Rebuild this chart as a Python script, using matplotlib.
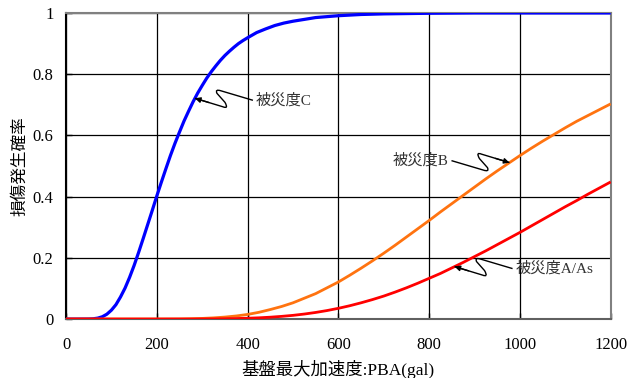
import numpy as np
import matplotlib
matplotlib.use("Agg")
import matplotlib.pyplot as plt
import matplotlib.transforms as mtransforms
from matplotlib.path import Path
from matplotlib.patches import PathPatch

# ---- data ----
pga_C = [0, 25, 50, 60, 70, 80, 90, 100, 110, 120, 130, 140, 150, 160, 170, 180,
         190, 200, 210, 220, 230, 240, 250, 260, 270, 280, 290, 300, 310, 320, 330,
         340, 350, 360, 370, 380, 390, 400, 420, 440, 460, 480, 500, 550, 600, 650,
         700, 750, 800, 900, 1000, 1100, 1200]
damage_C = [0, 0, 0.0002, 0.0009, 0.003, 0.0075, 0.0158, 0.029, 0.047, 0.072, 0.101,
            0.136, 0.175, 0.218, 0.263, 0.309, 0.355, 0.402, 0.447, 0.491, 0.534,
            0.574, 0.611, 0.647, 0.679, 0.710, 0.738, 0.763, 0.787, 0.808, 0.827,
            0.845, 0.861, 0.875, 0.888, 0.900, 0.910, 0.919, 0.936, 0.948, 0.959,
            0.967, 0.973, 0.985, 0.991, 0.995, 0.997, 0.998, 0.999, 1, 1, 1, 1]
pga_AB = [0, 50, 100, 150, 200, 250, 275, 300, 325, 350, 375, 400, 425, 450, 475,
          500, 525, 550, 575, 600, 625, 650, 675, 700, 725, 750, 775, 800, 825, 850,
          875, 900, 925, 950, 975, 1000, 1025, 1050, 1075, 1100, 1125, 1150, 1175, 1200]
damage_B = [0, 0, 0, 0, 0, 0.0003, 0.001, 0.002, 0.0038, 0.0064, 0.010, 0.015,
            0.022, 0.031, 0.041, 0.053, 0.068, 0.083, 0.102, 0.121, 0.143, 0.166,
            0.190, 0.215, 0.241, 0.268, 0.295, 0.322, 0.350, 0.377, 0.404, 0.431,
            0.458, 0.484, 0.509, 0.534, 0.558, 0.581, 0.603, 0.625, 0.646, 0.665,
            0.684, 0.703]
damage_A = [0, 0, 0, 0, 0, 0, 0, 0.0002, 0.0004, 0.0009, 0.0016, 0.0026, 0.004,
            0.006, 0.0087, 0.012, 0.0163, 0.0215, 0.0277, 0.035, 0.0434, 0.053,
            0.0635, 0.075, 0.088, 0.102, 0.117, 0.133, 0.149, 0.167, 0.185, 0.204,
            0.223, 0.243, 0.263, 0.283, 0.304, 0.325, 0.346, 0.367, 0.387, 0.408,
            0.428, 0.448]
x_ticks = [0, 200, 400, 600, 800, 1000, 1200]
y_ticks = [0, 0.2, 0.4, 0.6, 0.8, 1.0]
y_tick_labels = ["0", "0.2", "0.4", "0.6", "0.8", "1"]
label_C = "被災度C"
label_B = "被災度B"
label_A = "被災度A/As"
x_label = "基盤最大加速度:PBA(gal)"
y_label = "損傷発生確率"
# annotation anchor PGA values on each curve
tip_C = 284
tip_B = 977
tip_A = 856

plt.rcParams['font.family'] = ['Liberation Serif', 'Noto Sans CJK JP']

DPI = 100
fig = plt.figure(figsize=(6.27, 3.78), dpi=DPI)
ax = fig.add_axes([0.1053, 0.156, 0.8687, 0.8097])

ax.plot(pga_C, damage_C, color='#0000ff', lw=2.3, solid_capstyle='butt', zorder=3)
ax.plot(pga_AB, damage_B, color='#ff7310', lw=2.0, solid_capstyle='butt', zorder=3)
ax.plot(pga_AB, damage_A, color='#ff0000', lw=2.0, solid_capstyle='butt', zorder=4)

ax.set_xlim(0, 1200)
ax.set_ylim(0, 1)
ax.set_xticks(x_ticks)
ax.set_yticks(y_ticks)
ax.set_yticklabels(y_tick_labels)
ax.grid(True, color='black', lw=0.9)
ax.set_axisbelow(True)
ax.tick_params(direction='in', length=4, width=1, labelsize=12, colors='black')
ax.tick_params(axis='x', pad=13)
ax.tick_params(axis='y', pad=9)
for side in ['top', 'right']:
    ax.spines[side].set_color('#808080')
    ax.spines[side].set_linewidth(1.5)
ax.spines['left'].set_color('black')
ax.spines['left'].set_linewidth(1.5)
ax.spines['bottom'].set_color('#606060')
ax.spines['bottom'].set_linewidth(1.5)

ax.set_xlabel(x_label, fontsize=12.5, labelpad=5)
ax.set_ylabel(y_label, fontsize=12, labelpad=3)


def leader(xs, series, xv, text, rot=False):
    yv = float(np.interp(xv, xs, series))
    # squiggle shape in pixels, x right / y down, relative to arrow tip
    verts = [(0, 0), (28, 8.5), (34, 11), (30, 4), (22, -5), (20, -9.5), (26, -7.5), (58, 2)]
    codes = [Path.MOVETO, Path.LINETO, Path.CURVE3, Path.CURVE3, Path.LINETO,
             Path.CURVE3, Path.CURVE3, Path.LINETO]
    s = -1 if rot else 1
    verts = [(s * vx, -s * vy) for vx, vy in verts]
    trans = mtransforms.ScaledTranslation(xv, yv, ax.transData)
    patch = PathPatch(Path(verts, codes), facecolor='none', edgecolor='black',
                      lw=1.0, transform=trans, zorder=6, clip_on=False)
    ax.add_patch(patch)
    ax.annotate('', xy=(xv, yv), xycoords='data',
                xytext=(verts[1][0] * 72 / DPI * 0.5, verts[1][1] * 72 / DPI * 0.5),
                textcoords='offset points',
                arrowprops=dict(arrowstyle='-|>', color='black', lw=1.0,
                                shrinkA=0, shrinkB=0, mutation_scale=8), zorder=6)
    tx = 61 * s * 72 / DPI
    ty = -2 * s * 72 / DPI
    ax.annotate(text, xy=(xv, yv), xycoords='data', xytext=(tx, ty),
                textcoords='offset points', ha='left' if not rot else 'right',
                va='center', fontsize=11, color='#333333', zorder=6)


leader(pga_C, damage_C, tip_C, label_C)
leader(pga_AB, damage_B, tip_B, label_B, rot=True)
leader(pga_AB, damage_A, tip_A, label_A)

fig.savefig('out.png', dpi=DPI)
